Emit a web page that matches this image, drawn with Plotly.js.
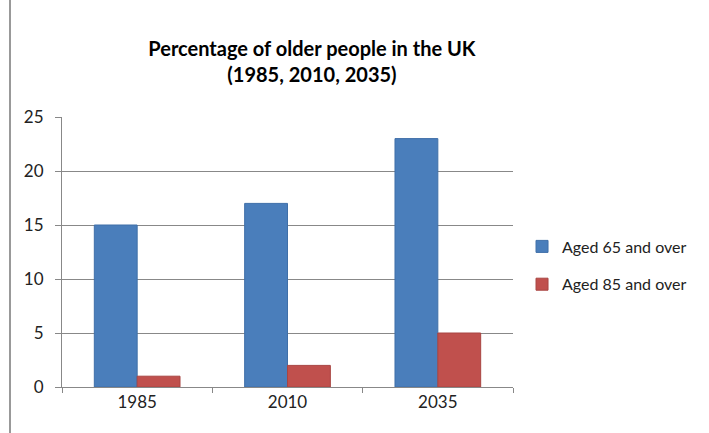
<!DOCTYPE html>
<html>
<head>
<meta charset="utf-8">
<script src="https://cdn.plot.ly/plotly-3.0.1.min.js"></script>
<style>html,body{margin:0;padding:0;background:#fff;}#chart{width:709px;height:433px;}</style>
</head>
<body>
<div id="chart"></div>
<script>
const categories = ["1985", "2010", "2035"];
const seriesNames = ["Aged 65 and over", "Aged 85 and over"];
const aged65 = [15, 17, 23];
const aged85 = [1, 2, 5];
const yTicks = [0, 5, 10, 15, 20, 25];

const font = "Lato, 'Open Sans', sans-serif";
const data = [
  {type: "bar", name: seriesNames[0], x: categories, y: aged65, legendgroup: "a",
   marker: {color: "#4A7EBB", line: {color: "#3F6FA8", width: 1}}},
  {type: "bar", name: seriesNames[1], x: categories, y: aged85, legendgroup: "b",
   marker: {color: "#C0504D", line: {color: "#A84542", width: 1}}}
];
const layout = {
  width: 709, height: 433,
  margin: {l: 62, r: 196, t: 117, b: 46},
  paper_bgcolor: "#fff", plot_bgcolor: "#fff",
  barmode: "group", bargap: 0.43, bargroupgap: 0,
  title: {text: "<b>Percentage of older people in the UK<br>(1985, 2010, 2035)</b>",
          font: {family: font, size: 20, color: "#000"}, x: 0.44, xanchor: "center", y: 0.87, yanchor: "middle"},
  xaxis: {type: "category", tickson: "boundaries", ticks: "outside", ticklen: 5, tickcolor: "#888",
          showline: true, linecolor: "#888", linewidth: 1, showgrid: false,
          tickfont: {family: font, size: 17, color: "#222"}},
  yaxis: {range: [0, 25], tickvals: yTicks, ticks: "outside", ticklen: 6, tickcolor: "#888",
          showline: true, linecolor: "#888", linewidth: 1, showgrid: true, gridcolor: "#888", gridwidth: 1,
          zeroline: false, ticklabelstandoff: 8, tickfont: {family: font, size: 17, color: "#222"}},
  legend: {x: 1.02, xanchor: "left", y: 0.45, yanchor: "middle", traceorder: "grouped", tracegroupgap: 14,
           font: {family: font, size: 16, color: "#222"}, itemwidth: 30},
  shapes: [{type: "line", xref: "paper", yref: "paper", x0: -52/451, x1: -52/451, y0: -46/270, y1: 1 + 117/270,
            line: {color: "#999", width: 2}}]
};
Plotly.newPlot("chart", data, layout, {displayModeBar: false});
</script>
</body>
</html>
